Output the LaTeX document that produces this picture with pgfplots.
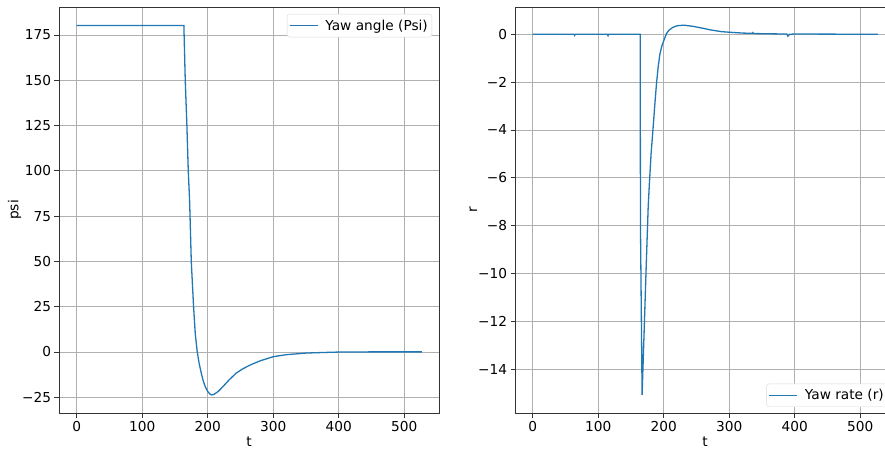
\documentclass[border=0pt]{standalone}
\usepackage{pgfplots}
\pgfplotsset{compat=1.18}
\usepackage{fontspec}
\setmainfont{DejaVu Sans}
\definecolor{mplblue}{HTML}{1F77B4}
\definecolor{gridc}{HTML}{B0B0B0}
\pgfplotsset{
  myax/.style={
    scale only axis, width=380bp, height=406bp,
    anchor=south west,
    axis line style={black!80, line width=0.8bp},
    tick align=outside, tick pos=left,
    major tick length=4.5bp,
    every tick/.style={black!80, line width=0.8bp},
    grid=major, grid style={gridc, line width=0.8bp},
    xtick={0,100,...,500},
    xmin=-27, xmax=553,
    /pgf/number format/assume math mode=true,
    ticklabel style={font=\fontsize{13.7bp}{16bp}\selectfont},
    label style={font=\fontsize{13.7bp}{16bp}\selectfont},
    xlabel style={yshift=1bp},
    ylabel style={yshift=-6bp},
    legend cell align=left,
    legend image code/.code={\draw[#1] (0bp,0bp) -- (28bp,0bp);},
    legend style={draw=gray!30, rounded corners=2.5bp, fill=white,
      font=\fontsize{13.7bp}{16bp}\selectfont, inner xsep=2bp, inner ysep=3.5bp,
      /tikz/every odd column/.append style={column sep=5bp}},
  }
}
\begin{document}
\begin{tikzpicture}
\useasboundingbox (-59bp,-40bp) rectangle (826bp,413bp);
\begin{axis}[myax, at={(0bp,0bp)},
  ymin=-33.7, ymax=190.5,
  ytick={-25,0,25,50,75,100,125,150,175},
  yticklabels={−25,0,25,50,75,100,125,150,175},
  xlabel={t}, ylabel={psi},
  legend style={at={(axis description cs:1,1)}, anchor=north east, xshift=-7bp, yshift=-7bp}]
\addplot[mplblue, line width=1.3bp] coordinates {
(0,180.3) (163.6,180.3) (165.7,150) (168.2,125) (170.3,100) (172.3,84)
(173,75) (174.9,50) (178.4,25) (181,10) (184,0) (187,-6.5) (190.2,-11.7)
(193,-15.8) (196.3,-19.2) (200,-21.8) (203,-23.1) (205.5,-23.7) (208,-23.6) (210,-23.3)
(216,-21.8) (223,-19.2) (233,-15.3) (243.4,-11.7) (254,-9.2) (264.8,-7.2)
(280,-4.9) (300,-2.6) (320,-1.5) (350,-0.6) (380,-0.25) (400,-0.05)
(450,0.05) (527,0.05)
};
\addlegendentry{Yaw angle (Psi)}
\end{axis}
\begin{axis}[myax, at={(456bp,0bp)},
  ymin=-15.83, ymax=1.14,
  ytick={-14,-12,-10,-8,-6,-4,-2,0},
  yticklabels={−14,−12,−10,−8,−6,−4,−2,0},
  xlabel={t}, ylabel={r},
  legend style={at={(axis description cs:1,0)}, anchor=south east, xshift=-7bp, yshift=6bp}]
\addplot[mplblue, line width=1.3bp] coordinates {
(0,0) (63,0) (64,-0.05) (65,0) (114,0) (115,-0.06) (116,0) (164.1,0)
(164.5,-8) (167,-15.07) (170,-12.5) (173,-9.9) (176.3,-7.2) (178,-6.3)
(180.7,-5.0) (183.8,-3.9) (186.8,-2.8) (189,-2.05) (191.4,-1.4) (194,-0.85)
(197,-0.5) (201,-0.2) (204,0.02) (208,0.17) (214,0.29) (221,0.36) (231,0.38)
(245,0.33) (260,0.25) (272,0.18) (288,0.11) (303,0.08) (320,0.05) (335,0.04)
(336,0.07) (337,0.03) (360,0.02) (388,0.01) (389.5,-0.08) (392,0.0) (400,0.01)
(527,0.0)
};
\addlegendentry{Yaw rate (r)}
\end{axis}
\end{tikzpicture}
\end{document}
